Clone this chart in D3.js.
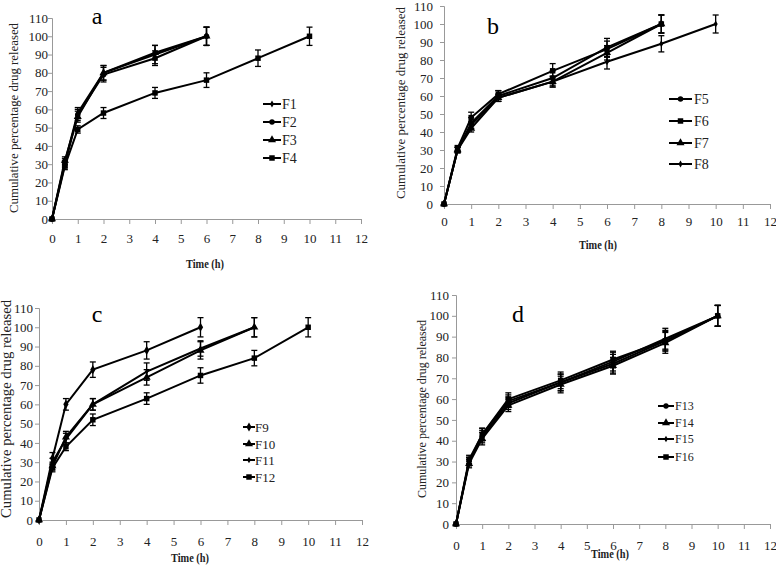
<!DOCTYPE html>
<html><head><meta charset="utf-8">
<script src="https://cdn.jsdelivr.net/npm/d3@7"></script>
<style>body{margin:0;background:#fff}svg{display:block}</style>
</head><body><svg id="c" width="776" height="565"></svg>
<script>
const time = [0,0.5,1,2,4,6,8,10];
const xTicks = [0,1,2,3,4,5,6,7,8,9,10,11,12];
const yTicks = [0,10,20,30,40,50,60,70,80,90,100,110];
const panelLetters = ["a","b","c","d"];
const seriesNames = [["F1","F2","F3","F4"],["F5","F6","F7","F8"],["F9","F10","F11","F12"],["F13","F14","F15","F16"]];
const F1 = [0,31,58,80,90,100],       F1err = [0,2,3,4,5,5];
const F2 = [0,30,57,79,88,100],       F2err = [0,2,3,4,4,5];
const F3 = [0,32,56,80,91,100],       F3err = [0,2,3,4,4,5];
const F4 = [0,29,49,58,69,76,88,100], F4err = [0,2,2,3,3,4,4.5,5];
const F5 = [0,30,45,60,70,87,100],    F5err = [0,1.5,3,3,4,5,5];
const F6 = [0,31,48,61,74,86,100],    F6err = [0,1.5,3,2,4,4.5,5];
const F7 = [0,30,42,59,68,84,100],    F7err = [0,1.5,2,2,3,4,5];
const F8 = [0,30,44,59,68,79,89,100], F8err = [0,1.5,2,2,3,4,4.5,5];
const F9 = [0,32,60,78,88,100],       F9err = [0,3,3,4,4.5,5];
const F10 = [0,28,43,60,74,88,100],   F10err = [0,2,3,3,4,4.5,5];
const F11 = [0,30,42,60,77,89,100],   F11err = [0,2,3,3,4.5,4,5];
const F12 = [0,27,38,52,63,75,84,100],F12err = [0,2,2,3,3,4,4,5];
const F13 = [0,30,42,58,68,77,88,100],F13err = [0,2,3,3,4,4.5,5,5];
const F14 = [0,29,41,57,67,76,87,100],F14err = [0,2,3,3,4,4,5,5];
const F15 = [0,30,43,59,68,78,89,100],F15err = [0,2,3,3,4,4.5,5,5];
const F16 = [0,31,43,60,69,79,88,100],F16err = [0,2,3,3,4,4,4.5,5];

const panelSeries = [
  [[F1,F1err],[F2,F2err],[F3,F3err],[F4,F4err]],
  [[F5,F5err],[F6,F6err],[F7,F7err],[F8,F8err]],
  [[F9,F9err],[F10,F10err],[F11,F11err],[F12,F12err]],
  [[F13,F13err],[F14,F14err],[F15,F15err],[F16,F16err]]
];
const panelSymbols = [
  [d3.symbolDiamond,d3.symbolCircle,d3.symbolTriangle,d3.symbolSquare],
  [d3.symbolCircle,d3.symbolSquare,d3.symbolTriangle,d3.symbolDiamond],
  [d3.symbolDiamond,d3.symbolTriangle,d3.symbolDiamond,d3.symbolSquare],
  [d3.symbolCircle,d3.symbolTriangle,d3.symbolDiamond,d3.symbolSquare]
];
const symSizes = [[14,24,28,30],[24,30,28,14],[24,28,12,30],[22,28,12,30]];
const SERIF = "'Liberation Serif', 'Times New Roman', serif";

const layouts = [
  {x0:52,x1:361,y0:219,y1:18, tickLblX:48, xLblY:240, tx:205, ty:268, yl:{x:13,y:118,len:190,fs:13},
   letter:{x:97,y:24}, leg:{lx0:263,lx1:281,tx:282,ys:[104,122,140,158],fs:14}},
  {x0:444,x1:770,y0:204,y1:6, tickLblX:433, xLblY:223, tx:598, ty:249, yl:{x:400,y:103,len:192,fs:13},
   letter:{x:493,y:34}, leg:{lx0:669,lx1:692,tx:694,ys:[99,121,143,164],fs:14}},
  {x0:39,x1:362,y0:520,y1:308, tickLblX:33, xLblY:543, tx:190, ty:562, yl:{x:6,y:409,len:218,fs:14},
   letter:{x:97,y:322}, leg:{lx0:243,lx1:255,tx:255,ys:[427,444,460,477],fs:13}},
  {x0:456,x1:770,y0:524,y1:295, tickLblX:449, xLblY:547, tx:610, ty:558, yl:{x:422,y:409,len:178,fs:12},
   letter:{x:518,y:322}, leg:{lx0:658,lx1:674,tx:675,ys:[406,423,439,457],fs:12}}
];

const svg = d3.select("#c");
layouts.forEach((L,pi)=>{
  const g = svg.append("g");
  const x = d3.scaleLinear().domain([0,12]).range([L.x0,L.x1]);
  const y = d3.scaleLinear().domain([0,110]).range([L.y0,L.y1]);
  const xa = g.append("g").attr("transform",`translate(0,${L.y0})`)
    .call(d3.axisBottom(x).tickValues(xTicks).tickSize(5).tickPadding(L.xLblY-L.y0-11));
  const ya = g.append("g").attr("transform",`translate(${L.x0},0)`)
    .call(d3.axisLeft(y).tickValues(yTicks).tickSize(4).tickPadding(L.x0-L.tickLblX-4));
  [xa,ya].forEach(a=>{
    a.select(".domain").attr("stroke","#999").attr("stroke-width",1);
    a.selectAll(".tick line").attr("stroke","#999");
    a.selectAll("text").attr("font-size",13).attr("fill","#222").style("font-family",SERIF);
  });
  g.append("text").attr("x",L.tx).attr("y",L.ty).attr("text-anchor","middle")
    .attr("font-size",13).attr("font-weight","bold").attr("fill","#222").style("font-family",SERIF)
    .attr("textLength",38).attr("lengthAdjust","spacingAndGlyphs").text("Time (h)");
  g.append("text").attr("transform",`translate(${L.yl.x},${L.yl.y}) rotate(-90)`)
    .attr("text-anchor","middle").attr("dominant-baseline","central")
    .attr("font-size",L.yl.fs).attr("fill","#222").style("font-family",SERIF)
    .attr("textLength",L.yl.len).attr("lengthAdjust","spacingAndGlyphs")
    .text("Cumulative percentage drug released");
  g.append("text").attr("x",L.letter.x).attr("y",L.letter.y).attr("text-anchor","middle")
    .attr("font-size",24).attr("fill","#000").style("font-family",SERIF).text(panelLetters[pi]);

  const line = d3.line().x(d=>x(d[0])).y(d=>y(d[1]));
  panelSeries[pi].forEach((s,si)=>{
    const vals = s[0], errs = s[1];
    const pts = vals.map((v,i)=>[time[i],v,errs[i]]);
    g.append("path").datum(pts).attr("d",line).attr("fill","none")
      .attr("stroke","#000").attr("stroke-width",2);
    const eb = g.append("g").attr("stroke","#000").attr("stroke-width",1.3);
    pts.filter(p=>p[2]>0).forEach(p=>{
      eb.append("line").attr("x1",x(p[0])).attr("x2",x(p[0])).attr("y1",y(p[1]-p[2])).attr("y2",y(p[1]+p[2]));
      eb.append("line").attr("x1",x(p[0])-3).attr("x2",x(p[0])+3).attr("y1",y(p[1]-p[2])).attr("y2",y(p[1]-p[2]));
      eb.append("line").attr("x1",x(p[0])-3).attr("x2",x(p[0])+3).attr("y1",y(p[1]+p[2])).attr("y2",y(p[1]+p[2]));
    });
    const sym = d3.symbol().type(panelSymbols[pi][si]).size(symSizes[pi][si]);
    g.append("g").selectAll("path").data(pts).join("path")
      .attr("transform",p=>`translate(${x(p[0])},${y(p[1])})`).attr("d",sym).attr("fill","#000");
    const ly = L.leg.ys[si];
    g.append("line").attr("x1",L.leg.lx0).attr("x2",L.leg.lx1).attr("y1",ly).attr("y2",ly)
      .attr("stroke","#000").attr("stroke-width",2);
    g.append("path").attr("transform",`translate(${(L.leg.lx0+L.leg.lx1)/2},${ly})`).attr("d",sym).attr("fill","#000");
    g.append("text").attr("x",L.leg.tx).attr("y",ly).attr("dominant-baseline","central")
      .attr("font-size",L.leg.fs).attr("fill","#222").style("font-family",SERIF).text(seriesNames[pi][si]);
  });
});
</script></body></html>
